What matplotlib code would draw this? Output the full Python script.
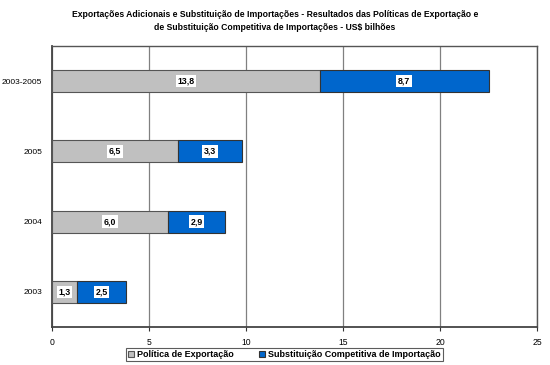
import matplotlib.pyplot as plt
import numpy as np

plt.rcParams['font.family'] = ['Liberation Sans', 'DejaVu Sans']

categories = ['2003', '2004', '2005', '2003-2005']
politica = [1.3, 6.0, 6.5, 13.8]
substituicao = [2.5, 2.9, 3.3, 8.7]
labels_pol = ['1,3', '6,0', '6,5', '13,8']
labels_sub = ['2,5', '2,9', '3,3', '8,7']

fig = plt.figure(figsize=(5.5, 3.65), dpi=100)
ax = fig.add_axes([0.0945, 0.104, 0.882, 0.77])

y = np.arange(len(categories))
h = 0.31
b1 = ax.barh(y, politica, height=h, color='#C0C0C0', edgecolor='#555555', linewidth=0.8,
             label='Política de Exportação', zorder=3)
b2 = ax.barh(y, substituicao, height=h, left=politica, color='#0066CC', edgecolor='#333333',
             linewidth=0.8, label='Substituição Competitiva de Importação', zorder=3)

box = dict(facecolor='white', edgecolor='none', pad=1.2)
for i in range(len(categories)):
    ax.text(politica[i] / 2, y[i], labels_pol[i], ha='center', va='center', fontsize=6.3,
            fontweight='bold', bbox=box, zorder=4)
    ax.text(politica[i] + substituicao[i] / 2, y[i], labels_sub[i], ha='center', va='center',
            fontsize=6.3, fontweight='bold', bbox=box, zorder=4)

ax.set_xlim(0, 25)
ax.set_ylim(-0.5, 3.5)
ax.set_xticks([0, 5, 10, 15, 20, 25])
ax.set_yticks(y)
ax.set_yticklabels(categories)
ax.tick_params(axis='x', labelsize=6.2, length=3, color='#333333', pad=5)
ax.tick_params(axis='y', labelsize=6.0, length=0, pad=7)
ax.xaxis.grid(True, color='#808080', linewidth=0.9, zorder=0)

for s in ['left', 'bottom']:
    ax.spines[s].set_color('#444444')
    ax.spines[s].set_linewidth(1.3)
for s in ['top', 'right']:
    ax.spines[s].set_color('#555555')
    ax.spines[s].set_linewidth(1.0)

fig.text(0.5, 0.972, 'Exportações Adicionais e Substituição de Importações - Resultados das Políticas de Exportação e\n'
         'de Substituição Competitiva de Importações - US$ bilhões',
         ha='center', va='top', fontsize=6.2, fontweight='bold', linespacing=1.5)

leg = fig.legend(handles=[b1, b2], loc='center', bbox_to_anchor=(0.517, 0.029), ncol=2,
                 fontsize=6.5, frameon=True, fancybox=False, edgecolor='#333333',
                 handlelength=0.7, handleheight=0.7, handletextpad=0.3, columnspacing=2.8,
                 borderpad=0.2, borderaxespad=0)
leg.get_frame().set_linewidth(0.8)
for t in leg.get_texts():
    t.set_fontweight('bold')

fig.savefig('out.png', dpi=100)
